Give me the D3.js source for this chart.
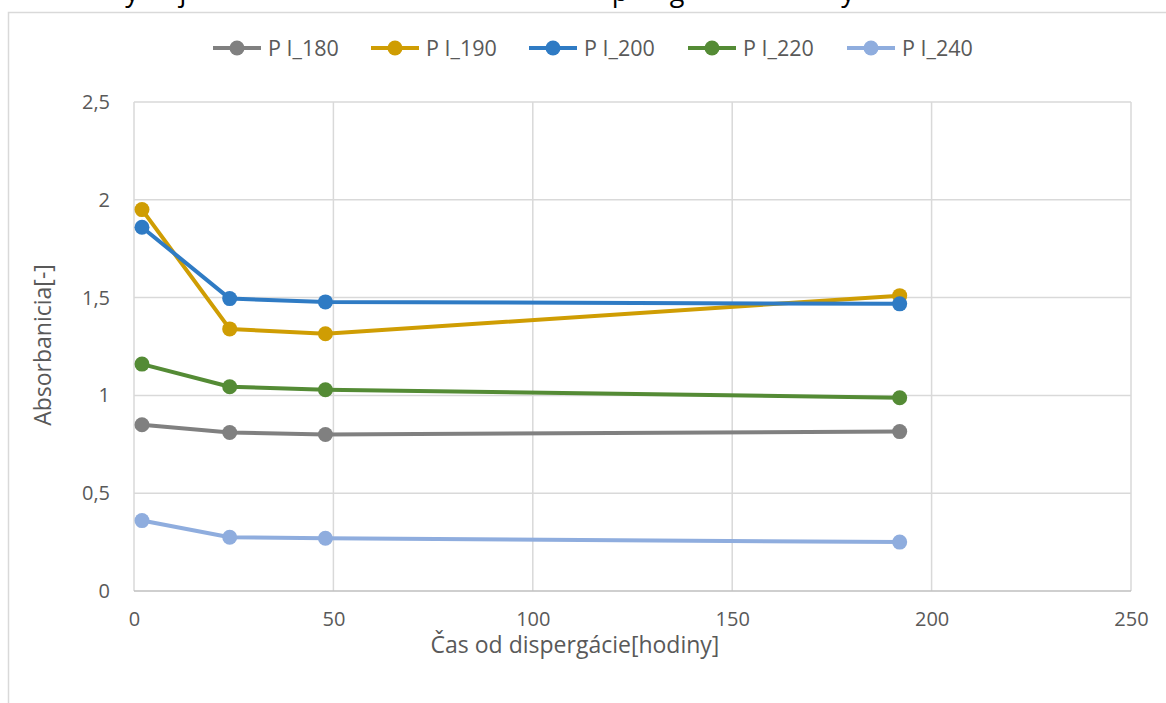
<!DOCTYPE html>
<html><head><meta charset="utf-8">
<script src="https://cdn.jsdelivr.net/npm/d3@7/dist/d3.min.js"></script>
<style>body{margin:0;background:#fff;} svg{display:block;}</style>
</head><body>
<svg id="c" width="1166" height="703"></svg>
<script>
const hours = [2, 24, 48, 192];
const seriesNames = ["P I_180", "P I_190", "P I_200", "P I_220", "P I_240"];
const pi180 = [0.85, 0.81, 0.80, 0.815];
const pi190 = [1.95, 1.34, 1.315, 1.51];
const pi200 = [1.86, 1.495, 1.478, 1.468];
const pi220 = [1.16, 1.044, 1.029, 0.988];
const pi240 = [0.36, 0.275, 0.27, 0.25];
const colors = ["#808080", "#cf9d03", "#2f7bc4", "#548b35", "#8fadde"];
const xTicks = [0, 50, 100, 150, 200, 250];
const yTicks = [0, 0.5, 1, 1.5, 2, 2.5];
const yTickLabels = ["0", "0,5", "1", "1,5", "2", "2,5"];
const xTitle = "Čas od dispergácie[hodiny]";
const yTitle = "Absorbanicia[-]";
const titleFragments = [{t:"y", x:132},{t:"j", x:183},{t:"p", x:620},{t:"g", x:677},{t:"y", x:848}];

const allSeries = [pi180, pi190, pi200, pi220, pi240];
const svg = d3.select("#c");
const font = "'Open Sans', sans-serif";

// remnants of the cropped title (only descenders visible)
svg.selectAll("text.ttl").data(titleFragments).join("text")
  .attr("x", d => d.x).attr("y", 1).attr("font-family", font).attr("font-size", 27)
  .attr("fill", "#000").attr("text-anchor", "middle").text(d => d.t);

// chart border
svg.append("rect").attr("x", 8.5).attr("y", 12.5).attr("width", 1200).attr("height", 760)
  .attr("fill", "none").attr("stroke", "#d9d9d9").attr("stroke-width", 1.5);

const x = d3.scaleLinear().domain([0, 250]).range([134, 1131]);
const y = d3.scaleLinear().domain([0, 2.5]).range([591, 102]);

// gridlines
svg.append("g").selectAll("line").data(yTicks.slice(1)).join("line")
  .attr("x1", 134).attr("x2", 1131).attr("y1", d => y(d)).attr("y2", d => y(d))
  .attr("stroke", "#d9d9d9").attr("stroke-width", 1.5);
svg.append("g").selectAll("line").data(xTicks).join("line")
  .attr("y1", 102).attr("y2", 591).attr("x1", d => x(d)).attr("x2", d => x(d))
  .attr("stroke", "#d9d9d9").attr("stroke-width", 1.5);
// zero axis
svg.append("line").attr("x1", 134).attr("x2", 1131).attr("y1", y(0)).attr("y2", y(0))
  .attr("stroke", "#bfbfbf").attr("stroke-width", 1.5);

// axes labels via d3 axes
const xAxis = svg.append("g").attr("transform", `translate(0,${y(0)})`)
  .call(d3.axisBottom(x).tickValues(xTicks).tickSize(0).tickPadding(21).tickFormat(d3.format("d")));
xAxis.select(".domain").remove();
xAxis.selectAll("text").attr("font-family", font).attr("font-size", 20).attr("fill", "#595959");

const yAxis = svg.append("g").attr("transform", `translate(${x(0)},0)`)
  .call(d3.axisLeft(y).tickValues(yTicks).tickSize(0).tickPadding(24).tickFormat((d,i) => yTickLabels[i]));
yAxis.select(".domain").remove();
yAxis.selectAll("text").attr("font-family", font).attr("font-size", 20).attr("fill", "#595959");

// axis titles
svg.append("text").attr("x", 575).attr("y", 653).attr("text-anchor", "middle")
  .attr("font-family", font).attr("font-size", 23).attr("fill", "#595959").text(xTitle);
svg.append("text").attr("transform", "translate(51,345) rotate(-90)").attr("text-anchor", "middle")
  .attr("font-family", font).attr("font-size", 23).attr("fill", "#595959").text(yTitle);

// series
const line = d3.line().x((d, i) => x(hours[i])).y(d => y(d));
allSeries.forEach((s, k) => {
  const g = svg.append("g");
  g.append("path").attr("d", line(s)).attr("fill", "none").attr("stroke", colors[k])
    .attr("stroke-width", 4).attr("stroke-linejoin", "round").attr("stroke-linecap", "round");
  g.selectAll("circle").data(s).join("circle")
    .attr("cx", (d, i) => x(hours[i])).attr("cy", d => y(d)).attr("r", 7.5).attr("fill", colors[k]);
});

// legend
const legendX = [213, 371, 529, 688, 847];
const lg = svg.append("g");
seriesNames.forEach((n, k) => {
  const g = lg.append("g").attr("transform", `translate(${legendX[k]},48)`);
  g.append("line").attr("x1", 0).attr("x2", 48).attr("y1", 0).attr("y2", 0)
    .attr("stroke", colors[k]).attr("stroke-width", 4);
  g.append("circle").attr("cx", 24).attr("cy", 0).attr("r", 7.5).attr("fill", colors[k]);
  g.append("text").attr("x", 55).attr("y", 8).attr("font-family", font).attr("font-size", 21.5)
    .attr("fill", "#595959").text(n);
});
</script>
</body></html>
